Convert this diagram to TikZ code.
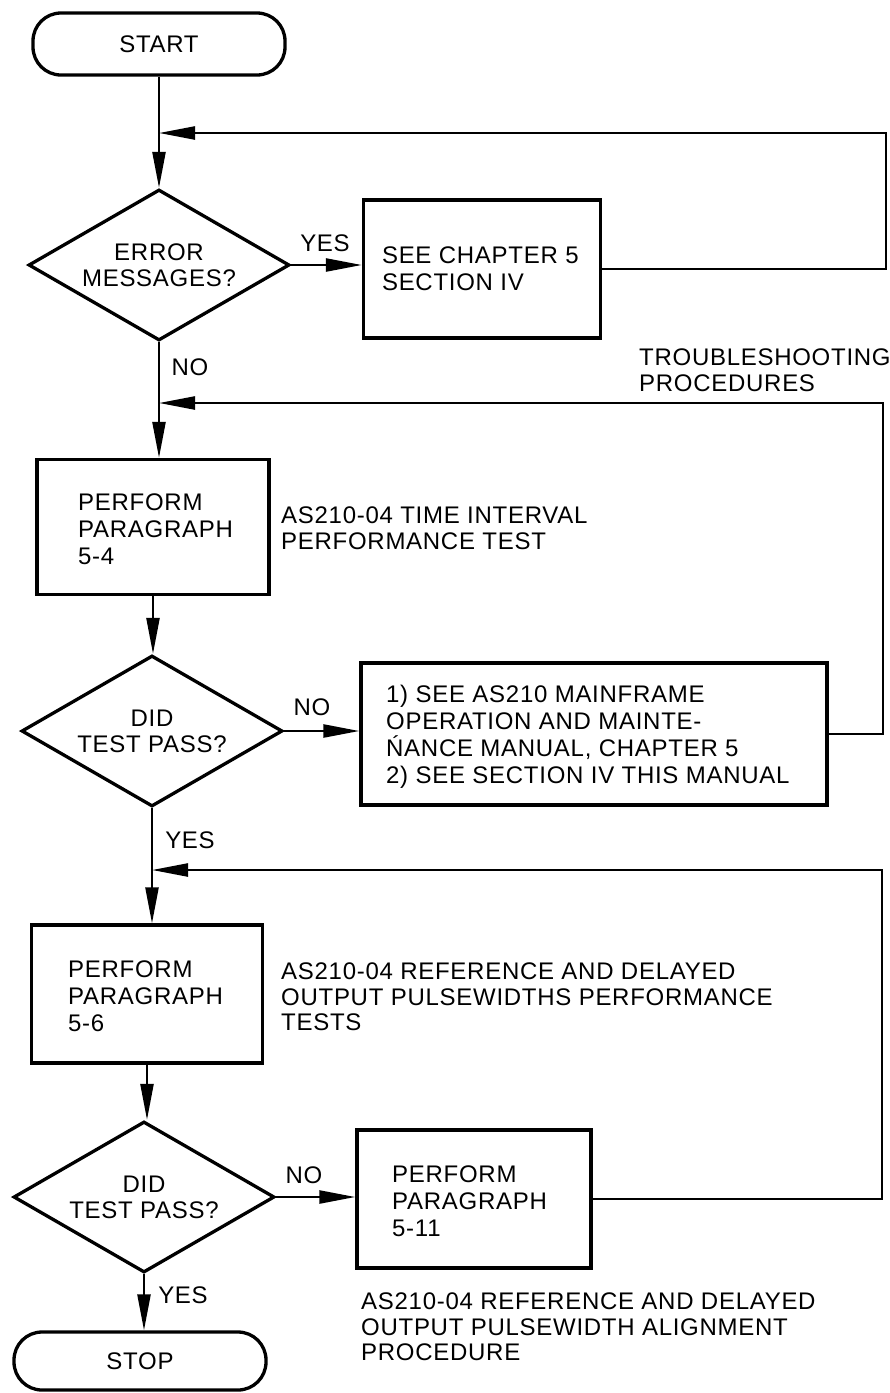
\documentclass[tikz,border=0pt]{standalone}
\usepackage{fontspec}
\setmainfont{Liberation Sans}[LetterSpace=3]
\usetikzlibrary{arrows.meta,shapes.geometric}
\begin{document}
\begin{tikzpicture}[x=1pt,y=-1pt,
  txt/.style={font=\fontsize{24}{27}\selectfont, align=left, inner sep=0pt},
  side/.style={font=\fontsize{24}{25.5}\selectfont, align=left, inner sep=0pt},
  flowbox/.style={draw, line width=3.3pt, inner sep=0pt},
  term/.style={draw, line width=3.3pt, rounded corners=28pt, minimum width=252pt, inner sep=0pt, font=\fontsize{24}{27}\selectfont},
  dec/.style={diamond, draw, line width=3.3pt, minimum width=261pt, minimum height=151pt, aspect=1.73, inner sep=0pt, align=center, font=\fontsize{24}{26}\selectfont},
  conn/.style={line width=2.4pt},
  arr/.style={conn, -{Triangle[length=36pt,width=13pt]}}
]
\useasboundingbox (0,0) rectangle (890,1393);

% nodes
\node[term, minimum height=62pt] (start) at (159,44) {START};
\node[dec] (d1) at (159,265) {ERROR\\MESSAGES?};
\node[flowbox, minimum width=237pt, minimum height=138pt] (b1) at (482,269) {};
\node[txt, anchor=west] (b1t) at ([xshift=20pt]b1.west) {SEE CHAPTER 5\\SECTION IV};
\node[txt] (yes1) at (325,243) {YES};
\node[txt] (no1) at (190,367) {NO};
\node[side, anchor=west] (trb) at (639,370) {TROUBLESHOOTING\\PROCEDURES};

\node[flowbox, minimum width=232pt, minimum height=135pt] (b2) at (153,527) {};
\node[txt, anchor=west] (b2t) at (78,529) {PERFORM\\PARAGRAPH\\5-4};
\node[side, anchor=west] (s2) at (281,528) {AS210-04 TIME INTERVAL\\PERFORMANCE TEST};

\node[dec] (d2) at (152,731) {DID\\TEST PASS?};
\node[txt] (no2) at (312,707) {NO};
\node[flowbox, minimum width=466pt, minimum height=142pt] (b3) at (594,734) {};
\node[txt, anchor=west] (b3t) at (386,737) {1) SEE AS210 MAINFRAME\\OPERATION AND MAINTE-\\ŃANCE MANUAL, CHAPTER 5\\2) SEE SECTION IV THIS MANUAL};
\node[txt] (yes2) at (190,840) {YES};

\node[flowbox, minimum width=231pt, minimum height=138pt] (b4) at (147,994) {};
\node[txt, anchor=west] (b4t) at (68,996) {PERFORM\\PARAGRAPH\\5-6};
\node[side, anchor=west] (s4) at (281,997) {AS210-04 REFERENCE AND DELAYED\\OUTPUT PULSEWIDTHS PERFORMANCE\\TESTS};

\node[dec] (d3) at (144,1197) {DID\\TEST PASS?};
\node[txt] (no3) at (304,1175) {NO};
\node[flowbox, minimum width=234pt, minimum height=138pt] (b5) at (474,1199) {};
\node[txt, anchor=west] (b5t) at (392,1201) {PERFORM\\PARAGRAPH\\5-11};
\node[txt] (yes3) at (183,1295) {YES};
\node[term, minimum height=58pt] (stop) at (140,1361) {STOP};
\node[side, anchor=west] (s5) at (361,1327) {AS210-04 REFERENCE AND DELAYED\\OUTPUT PULSEWIDTH ALIGNMENT\\PROCEDURE};

% connectors
\coordinate (m1) at (start.south |- 0,133);
\coordinate (r1) at (886,133);
\draw[arr] (start.south) -- (start.south |- d1.north);
\draw[arr] (d1.east) -- (d1.east -| b1.west);
\draw[arr] (b1.east) -- (b1.east -| r1) -- (r1) -- (m1);

\coordinate (m2) at (d1.south |- 0,403);
\coordinate (r2) at (883,403);
\draw[arr] (d1.south) -- (d1.south |- b2.north);
\draw[arr] (b2.south) -- (b2.south |- d2.north);
\draw[arr] (d2.east) -- (d2.east -| b3.west);
\draw[arr] (b3.east) -- (b3.east -| r2) -- (r2) -- (m2);

\coordinate (m3) at (d2.south |- 0,870);
\coordinate (r3) at (882,870);
\draw[arr] (d2.south) -- (d2.south |- b4.north);
\draw[arr] (b4.south) -- (b4.south |- d3.north);
\draw[arr] (d3.east) -- (d3.east -| b5.west);
\draw[arr] (b5.east) -- (b5.east -| r3) -- (r3) -- (m3);
\draw[arr] (d3.south) -- (d3.south |- stop.north);
\end{tikzpicture}
\end{document}
